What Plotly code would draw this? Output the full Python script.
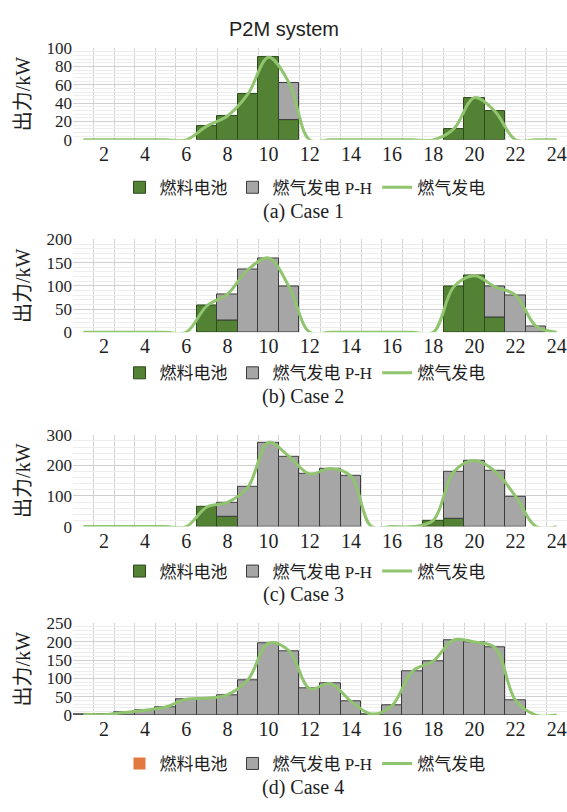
import plotly.graph_objects as go

# ---------------- data ----------------
hours = list(range(1, 25))
tick_vals = [2, 4, 6, 8, 10, 12, 14, 16, 18, 20, 22, 24]
tick_text = [str(v) for v in tick_vals]

series_names = ["燃料电池", "燃气发电 P-H", "燃气发电"]
panel_titles = ["(a) Case 1", "(b) Case 2", "(c) Case 3", "(d) Case 4"]
y_max = [100, 200, 300, 250]
y_step = [20, 50, 100, 50]

case1_fuel_cell = [0, 0, 0, 0, 0, 0, 15, 26, 50, 90, 22, 0, 0, 0, 0, 0, 0, 0, 12, 46, 31, 0, 0, 0]
case1_gas_ph    = [0, 0, 0, 0, 0, 0, 0, 0, 0, 0, 40, 0, 0, 0, 0, 0, 0, 0, 0, 0, 0, 0, 0, 0]
case1_gas       = [0, 0, 0, 0, 0, 0, 15, 26, 50, 90, 62, 0, 0, 0, 0, 0, 0, 0, 12, 46, 31, 0, 0, 0]

case2_fuel_cell = [0, 0, 0, 0, 0, 0, 57, 26, 0, 0, 0, 0, 0, 0, 0, 0, 0, 0, 98, 122, 31, 0, 0, 0]
case2_gas_ph    = [0, 0, 0, 0, 0, 0, 0, 56, 135, 160, 98, 0, 0, 0, 0, 0, 0, 0, 0, 0, 67, 80, 13, 0]
case2_gas       = [0, 0, 0, 0, 0, 0, 57, 82, 135, 160, 98, 0, 0, 0, 0, 0, 0, 0, 98, 122, 98, 80, 13, 0]

case3_fuel_cell = [0, 0, 0, 0, 0, 0, 64, 31, 0, 0, 0, 0, 0, 0, 0, 0, 0, 20, 27, 0, 0, 0, 0, 0]
case3_gas_ph    = [0, 0, 0, 0, 0, 0, 0, 48, 129, 275, 229, 172, 190, 165, 0, 0, 0, 0, 152, 216, 181, 99, 0, 0]
case3_gas       = [0, 0, 0, 0, 0, 0, 64, 79, 129, 275, 229, 172, 190, 165, 0, 0, 0, 20, 179, 216, 181, 99, 0, 0]

case4_fuel_cell = [0] * 24
case4_gas_ph    = [2, 1, 7, 13, 22, 43, 46, 55, 96, 196, 175, 72, 86, 38, 3, 26, 120, 147, 205, 199, 184, 40, 0, 0]
case4_gas       = [2, 1, 7, 13, 22, 43, 46, 55, 96, 196, 175, 72, 86, 38, 3, 26, 120, 147, 205, 199, 184, 40, 0, 0]

fuel_cell_data = [case1_fuel_cell, case2_fuel_cell, case3_fuel_cell, case4_fuel_cell]
gas_ph_data = [case1_gas_ph, case2_gas_ph, case3_gas_ph, case4_gas_ph]
gas_data = [case1_gas, case2_gas, case3_gas, case4_gas]

# ---------------- style ----------------
W, H = 567, 812
SERIF = "Liberation Serif, 'Noto Sans CJK SC', serif"
TXT = "#1e1e1e"
fc_colors = ["#548235", "#548235", "#548235", "#e2793f"]
fc_lines = ["#2c4a1b", "#2c4a1b", "#2c4a1b", "#e2793f"]
grey = "#a6a6a6"
grey_line = "#3c3c3c"
line_green = "#90c46e"

# pixel layout (top, bottom of each plot area), legends, captions
plot_px = [(40, 134), (236, 331), (436, 530), (629, 723)]
legend_px = [183, 373, 576, 773]
caption_px = [207, 397, 600, 797]
x_left = 73

def py(p):
    return 1 - p / H

fig = go.Figure()

for i in range(4):
    n = i + 1
    xa = "x" if n == 1 else f"x{n}"
    ya = "y" if n == 1 else f"y{n}"
    lg = "legend" if n == 1 else f"legend{n}"
    fc = [v if v != 0 else None for v in fuel_cell_data[i]]
    ph = [v if v != 0 else None for v in gas_ph_data[i]]
    if i == 3:
        fc = [0 if v is None else v for v in fc]
    fig.add_trace(go.Bar(
        x=hours, y=fc, name=series_names[0], xaxis=xa, yaxis=ya, legend=lg,
        width=1, marker=dict(color=fc_colors[i], line=dict(color=fc_lines[i], width=1 if i < 3 else 0)),
        offsetgroup=str(n), hoverinfo="skip",
    ))
    fig.add_trace(go.Bar(
        x=hours, y=ph, name=series_names[1], xaxis=xa, yaxis=ya, legend=lg,
        width=1, marker=dict(color=grey, line=dict(color=grey_line, width=1)),
        offsetgroup=str(n), base=[a if a is not None else 0 for a in fc] if i < 3 else None,
        hoverinfo="skip",
    ))
    fig.add_trace(go.Scatter(
        x=hours, y=gas_data[i], name=series_names[2], xaxis=xa, yaxis=ya, legend=lg,
        mode="lines", line=dict(color=line_green, width=3, shape="spline", smoothing=1),
        hoverinfo="skip",
    ))

    top, bot = plot_px[i]
    fig.layout[f"xaxis{'' if n == 1 else n}"] = dict(
        domain=[x_left / W, 1.0], anchor=ya, range=[0.5, 24.5],
        tickmode="array", tickvals=tick_vals, ticktext=tick_text,
        showgrid=False, zeroline=False, showline=False, ticks="",
        tickfont=dict(family=SERIF, size=20, color=TXT),
        minor=dict(tick0=0.5, dtick=1, showgrid=True, gridcolor="#d3d3d3", gridwidth=1),
        fixedrange=True,
    )
    fig.layout[f"yaxis{'' if n == 1 else n}"] = dict(
        domain=[py(bot), py(top)], anchor=xa, range=[0, y_max[i]],
        dtick=y_step[i], tick0=0, showgrid=True, gridcolor="#cfcfcf", gridwidth=1,
        zeroline=False, showline=False, ticks="",
        tickfont=dict(family=SERIF, size=17, color=TXT),
        minor=dict(dtick=y_step[i] / 5, showgrid=True, gridcolor="#ededed", gridwidth=1),
        title=dict(text="出力/kW", font=dict(family=SERIF, size=20, color=TXT), standoff=10),
        fixedrange=True,
    )
    fig.layout[lg] = dict(
        orientation="h", x=305 / W, xanchor="center", y=py(legend_px[i]), yanchor="middle",
        font=dict(family=SERIF, size=17, color=TXT), itemwidth=30,
        bgcolor="rgba(0,0,0,0)", traceorder="normal", tracegroupgap=0,
    )
    fig.add_annotation(
        text=panel_titles[i], xref="paper", yref="paper", x=303 / W, y=py(caption_px[i]),
        xanchor="center", yanchor="middle", showarrow=False,
        font=dict(family=SERIF, size=20, color=TXT),
    )

fig.add_annotation(
    text="P2M system", xref="paper", yref="paper", x=0.5, y=py(20),
    xanchor="center", yanchor="middle", showarrow=False,
    font=dict(family="Liberation Sans, Arial, sans-serif", size=20, color=TXT),
)

fig.update_layout(
    width=W, height=H, autosize=False,
    margin=dict(l=0, r=0, t=0, b=0),
    paper_bgcolor="white", plot_bgcolor="white",
    barmode="overlay", bargap=0, showlegend=True,
)

fig.write_html("out.html")
